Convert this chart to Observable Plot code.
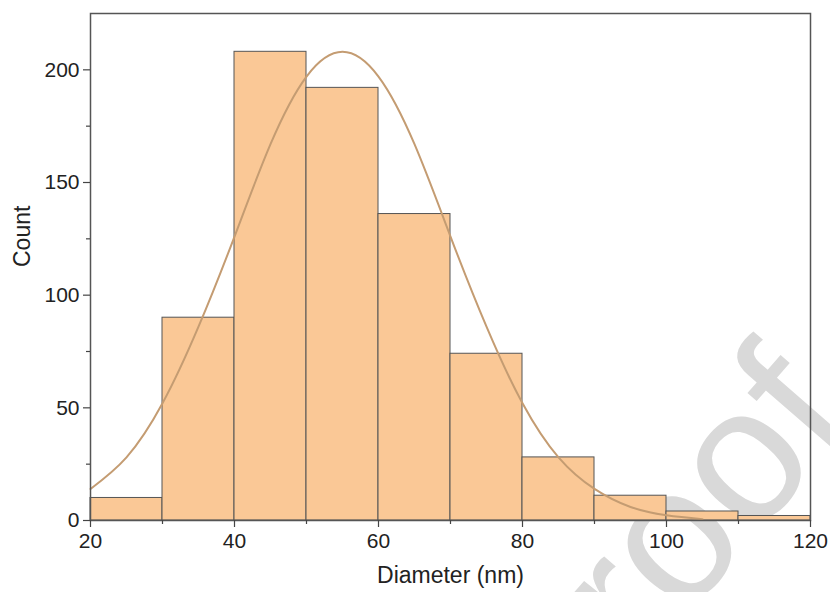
<!DOCTYPE html>
<html>
<head>
<meta charset="utf-8">
<script src="https://cdn.jsdelivr.net/npm/d3@7"></script>
<script src="https://cdn.jsdelivr.net/npm/@observablehq/plot@0.6"></script>
<style>
  html, body { margin: 0; padding: 0; background: #fff; }
  #wrap { position: relative; width: 830px; height: 592px; overflow: hidden; }
  #wm, #chart { position: absolute; left: 0; top: 0; }
</style>
</head>
<body>
<div id="wrap"><div id="wm"></div><div id="chart"></div></div>
<script>
// Histogram bins (nm) and counts
const binStart = [20, 30, 40, 50, 60, 70, 80, 90, 100, 110];
const binEnd   = [30, 40, 50, 60, 70, 80, 90, 100, 110, 120];
const counts   = [10, 90, 208, 192, 136, 74, 28, 11, 4, 2];

// Fitted curve
const fitX = [20, 25, 30, 35, 40, 45, 50, 55, 60, 65, 70, 75, 80, 85, 90, 95, 100, 105];
const fitY = [14, 28, 52, 86, 126, 167, 197, 208, 197, 167, 126, 86, 52, 28, 14, 6, 2.3, 0.6];

// Ticks
const xMajor = [20, 40, 60, 80, 100, 120];
const xMinor = [30, 50, 70, 90, 110];
const yMajor = [0, 50, 100, 150, 200];
const yMinor = [25, 75, 125, 175];

const xLabel = "Diameter (nm)";
const yLabel = "Count";
const watermark = "proof";

const bins = binStart.map((s, i) => ({x1: s, x2: binEnd[i], count: counts[i]}));
const fit = fitX.map((x, i) => ({x, y: fitY[i]}));

// watermark behind the chart
const wm = d3.select("#wm").append("svg").attr("width", 830).attr("height", 592);
wm.append("text")
  .attr("transform", "translate(572,748) rotate(-49)")
  .attr("font-family", "'Liberation Sans', Arial, sans-serif")
  .attr("font-size", 190)
  .attr("fill", "#d9d9d9")
  .text(watermark);

const chart = Plot.plot({
  width: 830,
  height: 592,
  marginLeft: 90,
  marginRight: 20,
  marginTop: 13,
  marginBottom: 72,
  style: {fontFamily: "'Liberation Sans', Arial, sans-serif", background: "transparent", color: "#222"},
  x: {domain: [20, 120]},
  y: {domain: [0, 225]},
  marks: [
    Plot.rect(bins, {x1: "x1", x2: "x2", y1: 0, y2: "count", fill: "#FAC896", stroke: "#555", strokeWidth: 1}),
    Plot.line(fit, {x: "x", y: "y", curve: "natural", stroke: "#C49C72", strokeWidth: 2}),
    Plot.frame({stroke: "#555", strokeWidth: 1.5}),
    Plot.axisX(xMajor, {tickSize: 7, tickPadding: 6, fontSize: 21, label: null, stroke: "#444", strokeWidth: 1.2}),
    Plot.axisX(xMinor, {tickSize: 4, tickFormat: () => "", label: null, stroke: "#444", strokeWidth: 1.2}),
    Plot.axisY(yMajor, {tickSize: 7, tickPadding: 4, fontSize: 21, label: null, stroke: "#444", strokeWidth: 1.2}),
    Plot.axisY(yMinor, {tickSize: 4, tickFormat: () => "", label: null, stroke: "#444", strokeWidth: 1.2}),
    Plot.text([xLabel], {text: d => d, frameAnchor: "bottom", dy: 62, fontSize: 23, fill: "#222"}),
    Plot.text([yLabel], {text: d => d, frameAnchor: "left", dx: -68, rotate: -90, fontSize: 23, fill: "#222"})
  ]
});
document.getElementById("chart").appendChild(chart);
</script>
</body>
</html>
